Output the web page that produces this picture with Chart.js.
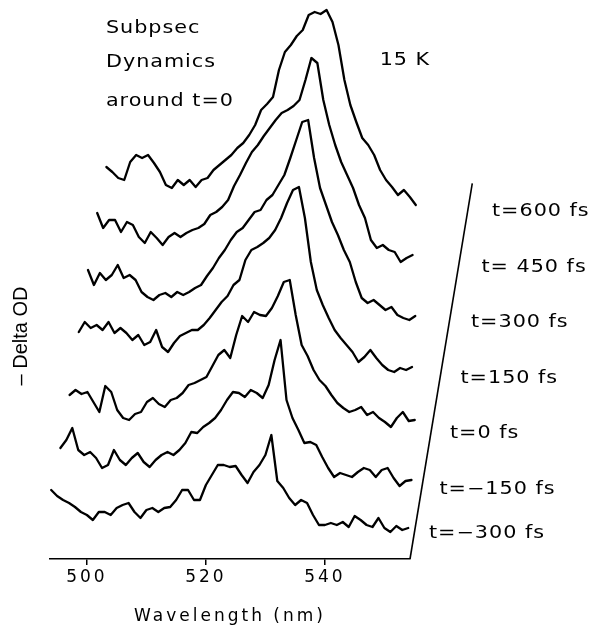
<!DOCTYPE html>
<html>
<head>
<meta charset="utf-8">
<script src="https://cdn.jsdelivr.net/npm/chart.js@4.4.1/dist/chart.umd.min.js"></script>
<style>
  html, body { margin: 0; padding: 0; background: #fff; }
</style>
</head>
<body>
<canvas id="spectra" width="599" height="630"></canvas>
<script>
// wavelength grid (nm) shared by all spectra
const wavelengths = Array.from({ length: 61 }, (_, i) => 494 + i);
const xTicks = [500, 520, 540];
const delayLabels = ['t=\u2212300 fs', 't=\u2212150 fs', 't=0 fs', 't=150 fs', 't=300 fs', 't= 450 fs', 't=600 fs'];

// -Delta OD (arb. units), one value per nm from 494 to 554
const od_m300 = [13.8, 12.6, 11.8, 11.2, 10.4, 9.4, 8.8, 7.8, 9.4, 9.4,
  8.8, 10.2, 10.8, 11.2, 9.4, 8.2, 9.8, 10.2, 9.4, 10.2,
  10.4, 11.8, 13.8, 13.8, 11.8, 11.8, 14.8, 16.8, 18.8, 18.8,
  18.4, 18.6, 16.8, 15.2, 17.4, 18.8, 20.8, 24.8, 15.6, 14.2,
  12.2, 10.8, 11.8, 11.2, 8.8, 6.8, 6.8, 7.2, 6.8, 7.4,
  6.4, 8.6, 7.8, 6.8, 6.4, 8.2, 6.2, 5.4, 6.6, 5.8, 6.2];
const od_m150 = [11.1, 12.7, 15.1, 10.7, 9.7, 10.3, 9.1, 7.1, 7.7, 10.7,
  8.7, 7.7, 9.1, 10.1, 8.3, 7.3, 8.7, 9.7, 10.3, 9.7,
  10.7, 12.1, 14.3, 14.1, 15.3, 16.1, 17.1, 18.7, 20.7, 22.3,
  22.1, 21.3, 22.7, 22.1, 21.1, 23.7, 28.7, 32.7, 20.7, 17.1,
  14.7, 12.1, 12.3, 11.7, 9.3, 7.1, 5.3, 6.1, 5.7, 5.3,
  6.3, 7.1, 6.7, 5.3, 6.7, 7.1, 5.1, 3.5, 4.5, 4.7, 5.5];
const od_0 = [10.6, 11.6, 10.8, 11.2, 9.2, 7.2, 12.4, 11.2, 7.6, 6.0,
  5.6, 6.8, 7.2, 9.2, 10.0, 8.8, 8.2, 9.6, 10.0, 11.0,
  12.6, 13.0, 13.6, 14.2, 16.4, 18.6, 19.6, 18.0, 22.6, 26.4,
  25.2, 27.2, 26.6, 26.4, 28.0, 30.4, 33.2, 33.6, 26.6, 20.6,
  18.4, 15.6, 13.6, 12.4, 10.6, 9.0, 8.0, 7.2, 7.6, 8.2,
  6.6, 7.2, 6.0, 5.2, 4.2, 6.0, 7.2, 5.4, 5.6, 6.0, 8.2];
const od_150 = [12.1, 14.1, 12.9, 13.5, 12.5, 14.1, 11.9, 12.9, 11.9, 10.5,
  11.5, 9.5, 10.1, 12.5, 9.1, 8.1, 9.9, 11.3, 11.9, 12.5,
  12.5, 13.5, 14.9, 16.5, 18.1, 19.3, 21.5, 22.5, 26.5, 28.5,
  29.1, 29.9, 30.9, 32.5, 34.9, 37.9, 40.5, 41.1, 34.9, 26.1,
  20.5, 17.5, 14.9, 12.5, 10.9, 9.5, 8.1, 6.1, 7.1, 8.5,
  6.9, 5.5, 4.5, 4.1, 4.9, 4.5, 5.1, 5.7, 5.3, 6.5, 5.3];
const od_300 = [13.4, 10.4, 12.8, 11.4, 12.4, 14.4, 11.8, 12.4, 11.4, 9.0,
  8.0, 7.4, 8.4, 8.8, 8.0, 9.0, 8.4, 9.0, 9.8, 10.4,
  12.2, 13.8, 15.8, 17.4, 19.4, 21.0, 21.8, 23.4, 25.0, 25.4,
  27.4, 28.4, 30.4, 32.4, 35.8, 39.4, 43.0, 43.4, 35.8, 29.8,
  26.4, 23.0, 20.4, 17.4, 15.0, 11.0, 7.8, 6.8, 7.4, 6.4,
  5.4, 6.0, 4.4, 3.8, 3.4, 4.2, 3.4, 4.8, 4.4, 6.2, 4.0];
const od_450 = [13.7, 10.7, 12.3, 12.3, 9.9, 11.9, 11.3, 8.9, 7.7, 9.9,
  8.7, 7.3, 8.9, 9.7, 8.9, 9.7, 10.3, 10.7, 11.5, 13.3,
  13.9, 14.9, 16.3, 19.1, 21.3, 23.7, 25.9, 27.3, 29.1, 30.7,
  32.3, 33.7, 34.3, 35.1, 36.3, 40.3, 44.7, 43.7, 36.3, 31.3,
  27.3, 23.9, 21.3, 18.7, 15.3, 12.7, 8.3, 6.7, 7.3, 6.3,
  5.9, 3.9, 4.7, 5.3, 3.9, 4.7, 2.7, 1.9, 3.9, 3.3, 3.9];
const od_600 = [11.8, 10.8, 9.6, 9.2, 12.8, 14.2, 13.6, 14.2, 12.6, 10.8,
  8.2, 7.6, 9.2, 8.2, 9.2, 7.8, 9.2, 9.6, 11.2, 12.2,
  13.2, 14.2, 15.6, 16.6, 18.2, 20.2, 23.2, 24.4, 25.8, 31.2,
  34.8, 36.2, 38.0, 39.2, 42.2, 42.8, 42.4, 43.2, 40.8, 36.2,
  29.2, 24.2, 20.8, 17.6, 16.2, 14.2, 11.2, 9.2, 7.8, 6.2,
  7.2, 5.8, 4.2, 3.8, 5.2, 3.2, 4.4, 3.8, 4.2, 5.0, 4.2];

const spectra = [od_m300, od_m150, od_0, od_150, od_300, od_450, od_600];

// waterfall offsets: each later delay is drawn shifted right and up
const waveShift = 1.546;
const odStep = 11.1;
const xMin = 493.8, xMax = 554.3;
const frameSteps = 6.77;

const traceSets = spectra.map((vals, k) => ({
  data: wavelengths.map((w, i) => ({ x: w + k * waveShift, y: vals[i] + k * odStep })),
  borderColor: '#000',
  borderWidth: 2.3,
  borderJoinStyle: 'round',
  borderCapStyle: 'round',
  pointRadius: 0,
  tension: 0,
  clip: false
}));

// slanted right edge of the 3D frame
traceSets.push({
  data: [{ x: xMax, y: 0 }, { x: xMax + frameSteps * waveShift, y: frameSteps * odStep }],
  borderColor: '#000',
  borderWidth: 1.6,
  pointRadius: 0,
  clip: false
});

// wide plotter-like lettering
function wideText(ctx, str, x, y) {
  ctx.save();
  ctx.translate(x, y);
  ctx.scale(1.22, 1);
  ctx.fillText(str, 0, 0);
  ctx.restore();
}

const annotations = {
  id: 'annotations',
  beforeDraw(chart) {
    chart.ctx.letterSpacing = '3px';
  },
  afterDraw(chart) {
    const { ctx, scales: { x, y } } = chart;
    ctx.save();
    ctx.fillStyle = '#000';
    ctx.font = '17px "DejaVu Sans"';
    ctx.letterSpacing = '0.8px';
    ctx.textAlign = 'left';
    ctx.textBaseline = 'alphabetic';

    wideText(ctx, 'Subpsec', x.getPixelForValue(503.2), y.getPixelForValue(105.2));
    wideText(ctx, 'Dynamics', x.getPixelForValue(503.2), y.getPixelForValue(98.4));
    wideText(ctx, 'around t=0', x.getPixelForValue(503.2), y.getPixelForValue(90.6));
    wideText(ctx, '15 K', x.getPixelForValue(549.2), y.getPixelForValue(98.8));

    delayLabels.forEach((lbl, k) => {
      const px = x.getPixelForValue(xMax + k * waveShift) + 19 + 1.3 * k;
      const py = y.getPixelForValue(k * odStep) - (k === 0 ? 21 : 10);
      wideText(ctx, lbl, px, py);
    });

    // y axis title
    ctx.letterSpacing = '0px';
    ctx.font = '20px "Liberation Sans"';
    ctx.translate(chart.chartArea.left - 29, y.getPixelForValue(44.6));
    ctx.rotate(-Math.PI / 2);
    ctx.textAlign = 'center';
    ctx.textBaseline = 'middle';
    ctx.fillText('\u2013 Delta OD', 0, 0);
    ctx.restore();
    ctx.letterSpacing = '0px';
  }
};

new Chart(document.getElementById('spectra'), {
  type: 'line',
  data: { datasets: traceSets },
  options: {
    responsive: false,
    animation: false,
    layout: { padding: { left: 50, right: 189, top: 5, bottom: 2.8 } },
    plugins: { legend: { display: false }, tooltip: { enabled: false } },
    scales: {
      x: {
        type: 'linear',
        min: xMin,
        max: xMax,
        afterBuildTicks: s => { s.ticks = xTicks.map(v => ({ value: v })); },
        ticks: {
          color: '#000',
          font: { family: 'DejaVu Sans', size: 17 },
          padding: 2,
          maxRotation: 0,
          autoSkip: false
        },
        grid: {
          display: true,
          drawOnChartArea: false,
          drawTicks: true,
          tickLength: 6,
          color: '#000',
          lineWidth: 1.5
        },
        border: { display: true, color: '#000', width: 1.6 },
        title: {
          display: true,
          text: 'Wavelength (nm)',
          color: '#000',
          font: { family: 'DejaVu Sans', size: 17 },
          padding: { top: 17.4, bottom: 0 }
        }
      },
      y: { display: false, min: 0, max: 110.8 }
    }
  },
  plugins: [annotations]
});
</script>
</body>
</html>
